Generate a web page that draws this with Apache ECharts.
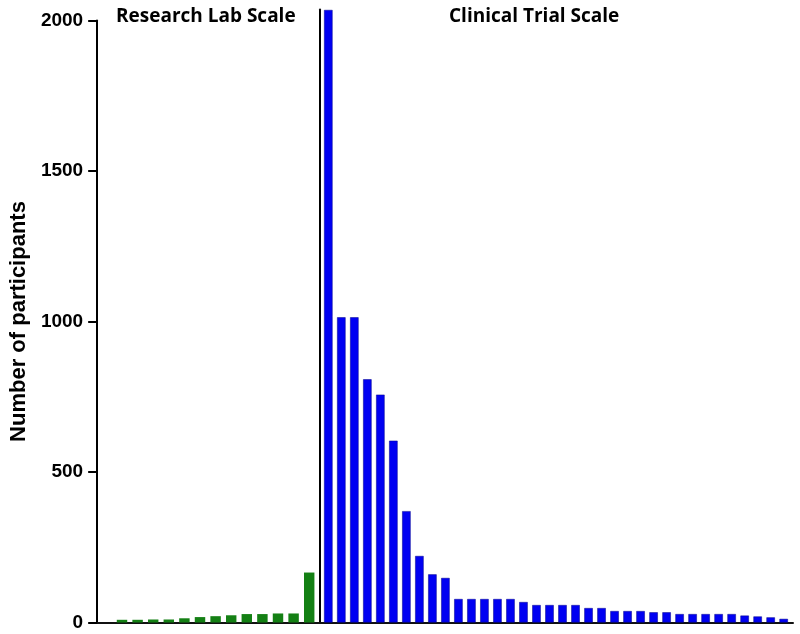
<!DOCTYPE html>
<html>
<head>
<meta charset="utf-8">
<script src="https://cdn.jsdelivr.net/npm/echarts@6/dist/echarts.min.js"></script>
<style>html,body{margin:0;padding:0;background:#fff}#c{width:800px;height:634px}</style>
</head>
<body>
<div id="c"></div>
<script>
const greenCategories = ['1','2','3','4','5','6','7','8','9','10','11','12','13'];
const greenValues = [9, 9, 10, 10, 14, 18, 21, 24, 28, 28, 30, 30, 166];
const blueCategories = ['1','2','3','4','5','6','7','8','9','10','11','12','13','14','15','16','17','18','19','20','21','22','23','24','25','26','27','28','29','30','31','32','33','34','35','36'];
const blueValues = [2035, 1014, 1014, 808, 757, 604, 370, 221, 160, 148, 78, 78, 78, 78, 78, 68, 58, 58, 58, 58, 48, 48, 38, 38, 38, 34, 34, 28, 28, 28, 28, 28, 23, 20, 17, 12];
const yTicks = [0, 500, 1000, 1500, 2000];
const groupTitles = ['Research Lab Scale', 'Clinical Trial Scale'];
const yTitle = 'Number of participants';

const chart = echarts.init(document.getElementById('c'), null, {renderer: 'canvas'});
const Y_MIN = yTicks[0], Y_MAX = yTicks[yTicks.length - 1], Y_STEP = yTicks[1] - yTicks[0];
const PX_PER_UNIT = (634 - 20.5 - 11.5) / (Y_MAX - Y_MIN);
const BLUE_MAX = (634 - 9.5 - 11.5) / PX_PER_UNIT;
const titleStyle = {fontFamily: 'Open Sans', fontWeight: 'bold', fontSize: 19, color: '#000'};

chart.setOption({
  animation: false,
  backgroundColor: '#fff',
  title: [
    {text: groupTitles[0], left: 111, top: 2, textStyle: titleStyle},
    {text: groupTitles[1], left: 444, top: 2, textStyle: titleStyle}
  ],
  grid: [
    {left: 96, right: 7, top: 20.5, bottom: 11.5},
    {left: 114.2, width: 202.8, top: 20.5, bottom: 11.5},
    {left: 321.8, width: 468.4, top: 9.5, bottom: 11.5}
  ],
  xAxis: [
    {gridIndex: 0, type: 'value', min: 0, max: 1,
     axisLine: {show: true, onZero: false, lineStyle: {color: '#111', width: 2}},
     axisTick: {show: false}, axisLabel: {show: false}, splitLine: {show: false}},
    {gridIndex: 1, type: 'category', data: greenCategories, show: false},
    {gridIndex: 2, type: 'category', data: blueCategories, show: false}
  ],
  yAxis: [
    {gridIndex: 0, type: 'value', min: Y_MIN, max: Y_MAX, interval: Y_STEP,
     name: yTitle, nameLocation: 'middle', nameGap: 63, nameRotate: 90,
     nameTextStyle: {fontFamily: 'Liberation Sans', fontWeight: 'bold', fontSize: 22, color: '#000'},
     axisLine: {show: true, onZero: false, lineStyle: {color: '#000', width: 2}},
     axisTick: {show: true, inside: false, length: 9, lineStyle: {color: '#000', width: 2}},
     axisLabel: {fontFamily: 'Liberation Sans', fontWeight: 'bold', fontSize: 19, color: '#000', margin: 14,
                 formatter: v => String(v)},
     splitLine: {show: false}},
    {gridIndex: 1, type: 'value', min: Y_MIN, max: Y_MAX, show: false},
    {gridIndex: 2, type: 'value', min: Y_MIN, max: BLUE_MAX, offset: 2.3,
     axisLine: {show: true, onZero: false, lineStyle: {color: '#000', width: 2}},
     axisTick: {show: false}, axisLabel: {show: false}, splitLine: {show: false}}
  ],
  series: [
    {type: 'bar', xAxisIndex: 1, yAxisIndex: 1, data: greenValues, barCategoryGap: '33%',
     itemStyle: {color: '#148014'}},
    {type: 'bar', xAxisIndex: 2, yAxisIndex: 2, data: blueValues, barCategoryGap: '35%',
     itemStyle: {color: '#0000f2', borderColor: '#00008a', borderWidth: 0.5}}
  ]
});
</script>
</body>
</html>
